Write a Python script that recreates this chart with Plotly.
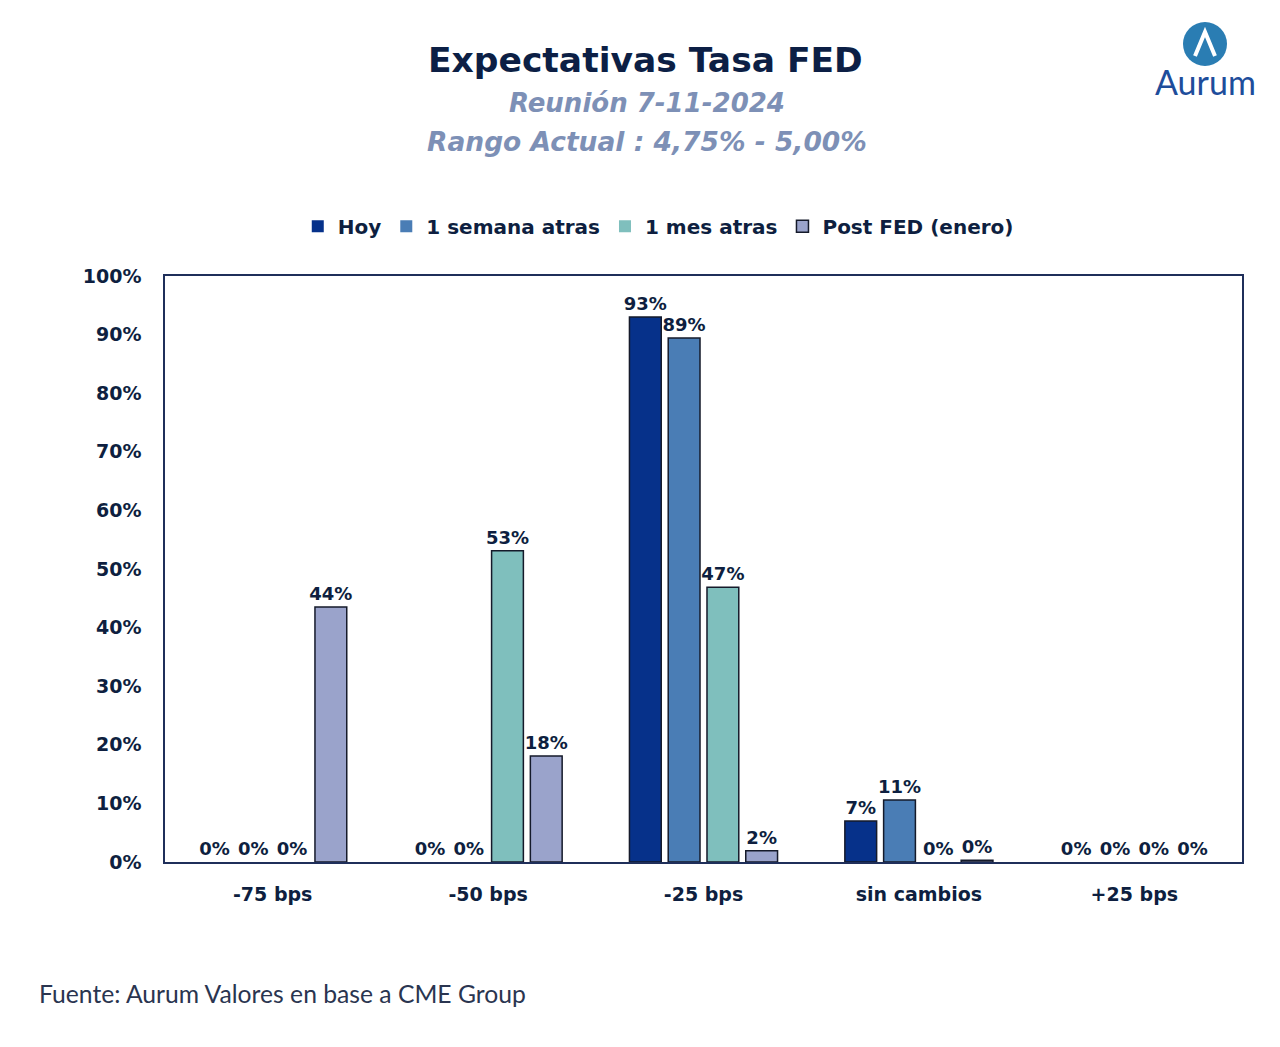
import plotly.graph_objects as go

categories = ["-75 bps", "-50 bps", "-25 bps", "sin cambios", "+25 bps"]
series_names = ["Hoy", "1 semana atras", "1 mes atras", "Post FED (enero)"]
hoy = [0.0, 0.0, 0.930, 0.070, 0.0]
semana = [0.0, 0.0, 0.894, 0.106, 0.0]
mes = [0.0, 0.531, 0.469, 0.0, 0.0]
post_fed = [0.435, 0.181, 0.019, 0.003, 0.0]
colors = ["#06318a", "#4a7db5", "#7fbfbd", "#9aa3cb"]
y_ticks = [i / 10 for i in range(11)]

navy = "#0e1f40"
W, H = 1280, 1047
ML, MR, MT, MB = 165, 38, 276, 185

fig = go.Figure()
for name, vals, col in zip(series_names, [hoy, semana, mes, post_fed], colors):
    fig.add_trace(go.Bar(
        name=name, x=categories, y=vals,
        marker=dict(color=col, line=dict(color="#151a2a",
                                         width=[1.5 if v > 0 else 0 for v in vals])),
        texttemplate="%{y:.0%}", textposition="outside", constraintext="none",
        textfont=dict(family="DejaVu Sans", size=18, color=navy, weight="bold"),
        cliponaxis=False,
    ))

fig.update_layout(
    width=W, height=H,
    paper_bgcolor="white", plot_bgcolor="white",
    margin=dict(l=ML, r=MR, t=MT, b=MB),
    barmode="group", bargap=0.28, bargroupgap=0.18,
    font=dict(family="DejaVu Sans", color=navy),
    legend=dict(orientation="h", x=0.458, xanchor="center", xref="paper",
                y=1.085, yanchor="middle",
                font=dict(family="DejaVu Sans", size=20, color=navy, weight="bold"),
                itemwidth=30, traceorder="normal"),
    showlegend=True,
)
fig.update_yaxes(range=[0, 1], tickvals=y_ticks, tickformat=".0%",
                 tickfont=dict(family="DejaVu Sans", size=19, color=navy, weight="bold"),
                 showgrid=False, zeroline=False, showline=True, mirror=True,
                 linecolor="#1f2f5a", linewidth=1.5, ticks="", ticklabelstandoff=18)
fig.update_xaxes(tickfont=dict(family="DejaVu Sans", size=19, color=navy, weight="bold"),
                 showgrid=False, showline=True, mirror=True,
                 linecolor="#1f2f5a", linewidth=1.5, ticks="", ticklabelstandoff=14)

def px(x, y):
    return (x - ML) / (W - ML - MR), 1 - (y - MT) / (H - MT - MB)

annotations = [
    dict(text="<b>Expectativas Tasa FED</b>", x=645, y=60,
         font=dict(family="DejaVu Sans", size=34.5, color="#0c1f45")),
    dict(text="<b><i>Reunión 7-11-2024</i></b>", x=647, y=103,
         font=dict(family="DejaVu Sans", size=26, color="#7d90b6")),
    dict(text="<b><i>Rango Actual : 4,75% - 5,00%</i></b>", x=647, y=142,
         font=dict(family="DejaVu Sans", size=26.5, color="#7d90b6")),
    dict(text="Fuente: Aurum Valores en base a CME Group", x=37, y=993, xanchor="left",
         font=dict(family="Lato", size=24.7, color="#2a3550")),
    dict(text="Aurum", x=1205, y=82,
         font=dict(family="Lato", size=34, color="#1e4d9b")),
]
for a in annotations:
    xx, yy = px(a["x"], a["y"])
    a.update(xref="paper", yref="paper", showarrow=False, yanchor="middle",
             xanchor=a.get("xanchor", "center"), x=xx, y=yy)
fig.update_layout(annotations=annotations)

x0, y0 = px(1183, 22)
x1, y1 = px(1227, 66)
fig.add_shape(type="circle", xref="paper", yref="paper", x0=x0, y0=y1, x1=x1, y1=y0,
              fillcolor="#2a7db3", line=dict(width=0))
pts = [px(1195, 56), px(1205, 32), px(1215, 56)]
path = "M {} {} L {} {} L {} {}".format(pts[0][0], pts[0][1], pts[1][0], pts[1][1], pts[2][0], pts[2][1])
fig.add_shape(type="path", xref="paper", yref="paper", path=path,
              line=dict(color="white", width=4))

fig.write_html("out.html")
